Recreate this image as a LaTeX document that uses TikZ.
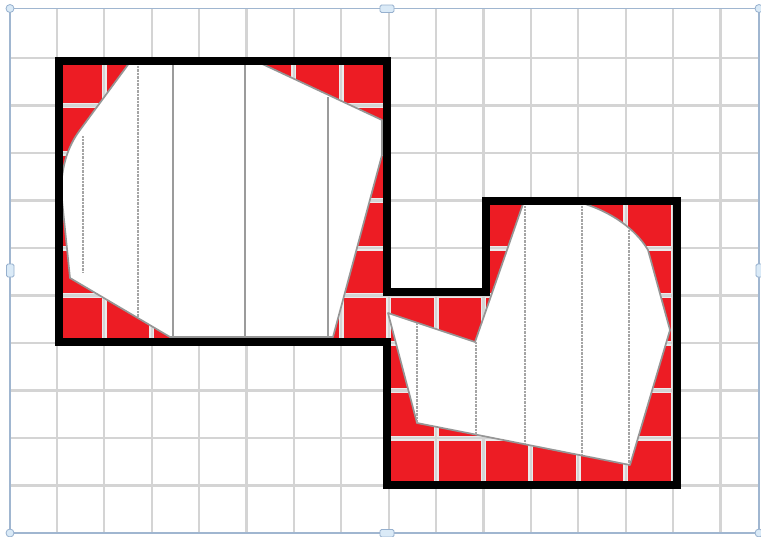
\documentclass[tikz,border=0pt]{standalone}
\usetikzlibrary{calc}
\definecolor{cellred}{RGB}{237,28,36}
\definecolor{gridgray}{RGB}{212,212,212}
\definecolor{gapgray}{RGB}{235,235,235}
\definecolor{frameblue}{RGB}{160,182,208}
\definecolor{handlefill}{RGB}{218,234,247}
\definecolor{handleedge}{RGB}{150,176,206}
\definecolor{edgegray}{RGB}{150,150,150}
\definecolor{innergray}{RGB}{155,155,155}
\definecolor{dotgray}{RGB}{165,165,165}
\tikzset{
  gridline/.style={draw=gridgray, line width=2.2},
  gapline/.style={draw=gapgray, line width=5},
  framebox/.style={draw=frameblue, line width=1.4},
  handlebox/.style={fill=handlefill, draw=handleedge, line width=0.8, rounded corners=1.5},
  blankshape/.style={fill=white, draw=edgegray, line width=1.7, line join=round},
  solidrule/.style={draw=innergray, line width=1.1},
  dotrule/.style={draw=dotgray, line width=1.4, dash pattern=on 0.7pt off 0.7pt},
  outline/.style={draw=black, line width=8.5, line join=miter}
}
\begin{document}
\begin{tikzpicture}[x=1pt,y=-1pt]
\useasboundingbox (0,0) rectangle (761,536);
\fill[white] (0,0) rectangle (761,536);

% outline vertices
\coordinate (A) at (59,61);
\coordinate (B) at (387,61);
\coordinate (C) at (387,292);
\coordinate (D) at (486,292);
\coordinate (E) at (486,201);
\coordinate (F) at (677,201);
\coordinate (G) at (677,485);
\coordinate (H) at (387,485);
\coordinate (I) at (387,342);
\coordinate (J) at (59,342);

% red region with light gaps between cells
\fill[cellred] (A)--(B)--(C)--(D)--(E)--(F)--(G)--(H)--(I)--(J)--cycle;
\begin{scope}
  \clip (A)--(B)--(C)--(D)--(E)--(F)--(G)--(H)--(I)--(J)--cycle;
  \foreach \k in {1,...,15} \draw[gapline] ({9.5+47.4*\k},9) -- ({9.5+47.4*\k},533);
  \foreach \k in {1,...,10} \draw[gapline] (10,{10.5+47.5*\k}) -- (758,{10.5+47.5*\k});
\end{scope}

% grid
\foreach \k in {1,...,16} \draw[gridline] ({9.5+47.4*\k},9) -- ({9.5+47.4*\k},533);
\foreach \k in {1,...,10} \draw[gridline] (10,{10.5+47.5*\k}) -- (758,{10.5+47.5*\k});

% selection frame
\draw[framebox] (10,8.5) rectangle (759,533);

% left white shape
\draw[blankshape] (130,62) -- (80,130) .. controls (68,146) and (62,165) .. (61,190)
  -- (70,278) -- (170,337) -- (333,337) -- (382,155) -- (382,120) -- (258,62) -- cycle;
\draw[dotrule] (83,136) -- (83,272);
\draw[dotrule] (138,63) -- (138,317);
\draw[solidrule] (173,63) -- (173,337);
\draw[solidrule] (245,63) -- (245,337);
\draw[solidrule] (328,97) -- (328,337);

% right white shape
\draw[blankshape] (523,204) -- (475,342) -- (388,313) -- (417,423) -- (630,465)
  -- (670,330) -- (648,250) .. controls (635,228) and (610,212) .. (585,204) -- cycle;
\draw[dotrule] (417,323) -- (417,423);
\draw[dotrule] (476,342) -- (476,435);
\draw[dotrule] (525,206) -- (525,444);
\draw[dotrule] (582,206) -- (582,455);
\draw[dotrule] (629,230) -- (629,463);

% black outline
\draw[outline] (A)--(B)--(C)--(D)--(E)--(F)--(G)--(H)--(I)--(J)--cycle;

% selection handles
\draw[handlebox] (380,5) rectangle (394,12.5);
\draw[handlebox] (380,529.5) rectangle (394,537);
\draw[handlebox] (6.5,264) rectangle (14,277);
\draw[handlebox] (756,264) rectangle (763.5,277);
\draw[handleedge, fill=handlefill, line width=0.8] (10,8.5) circle (4);
\draw[handleedge, fill=handlefill, line width=0.8] (10,533) circle (4);
\draw[handleedge, fill=handlefill, line width=0.8] (759,8.5) circle (4);
\draw[handleedge, fill=handlefill, line width=0.8] (759,533) circle (4);
\end{tikzpicture}
\end{document}
